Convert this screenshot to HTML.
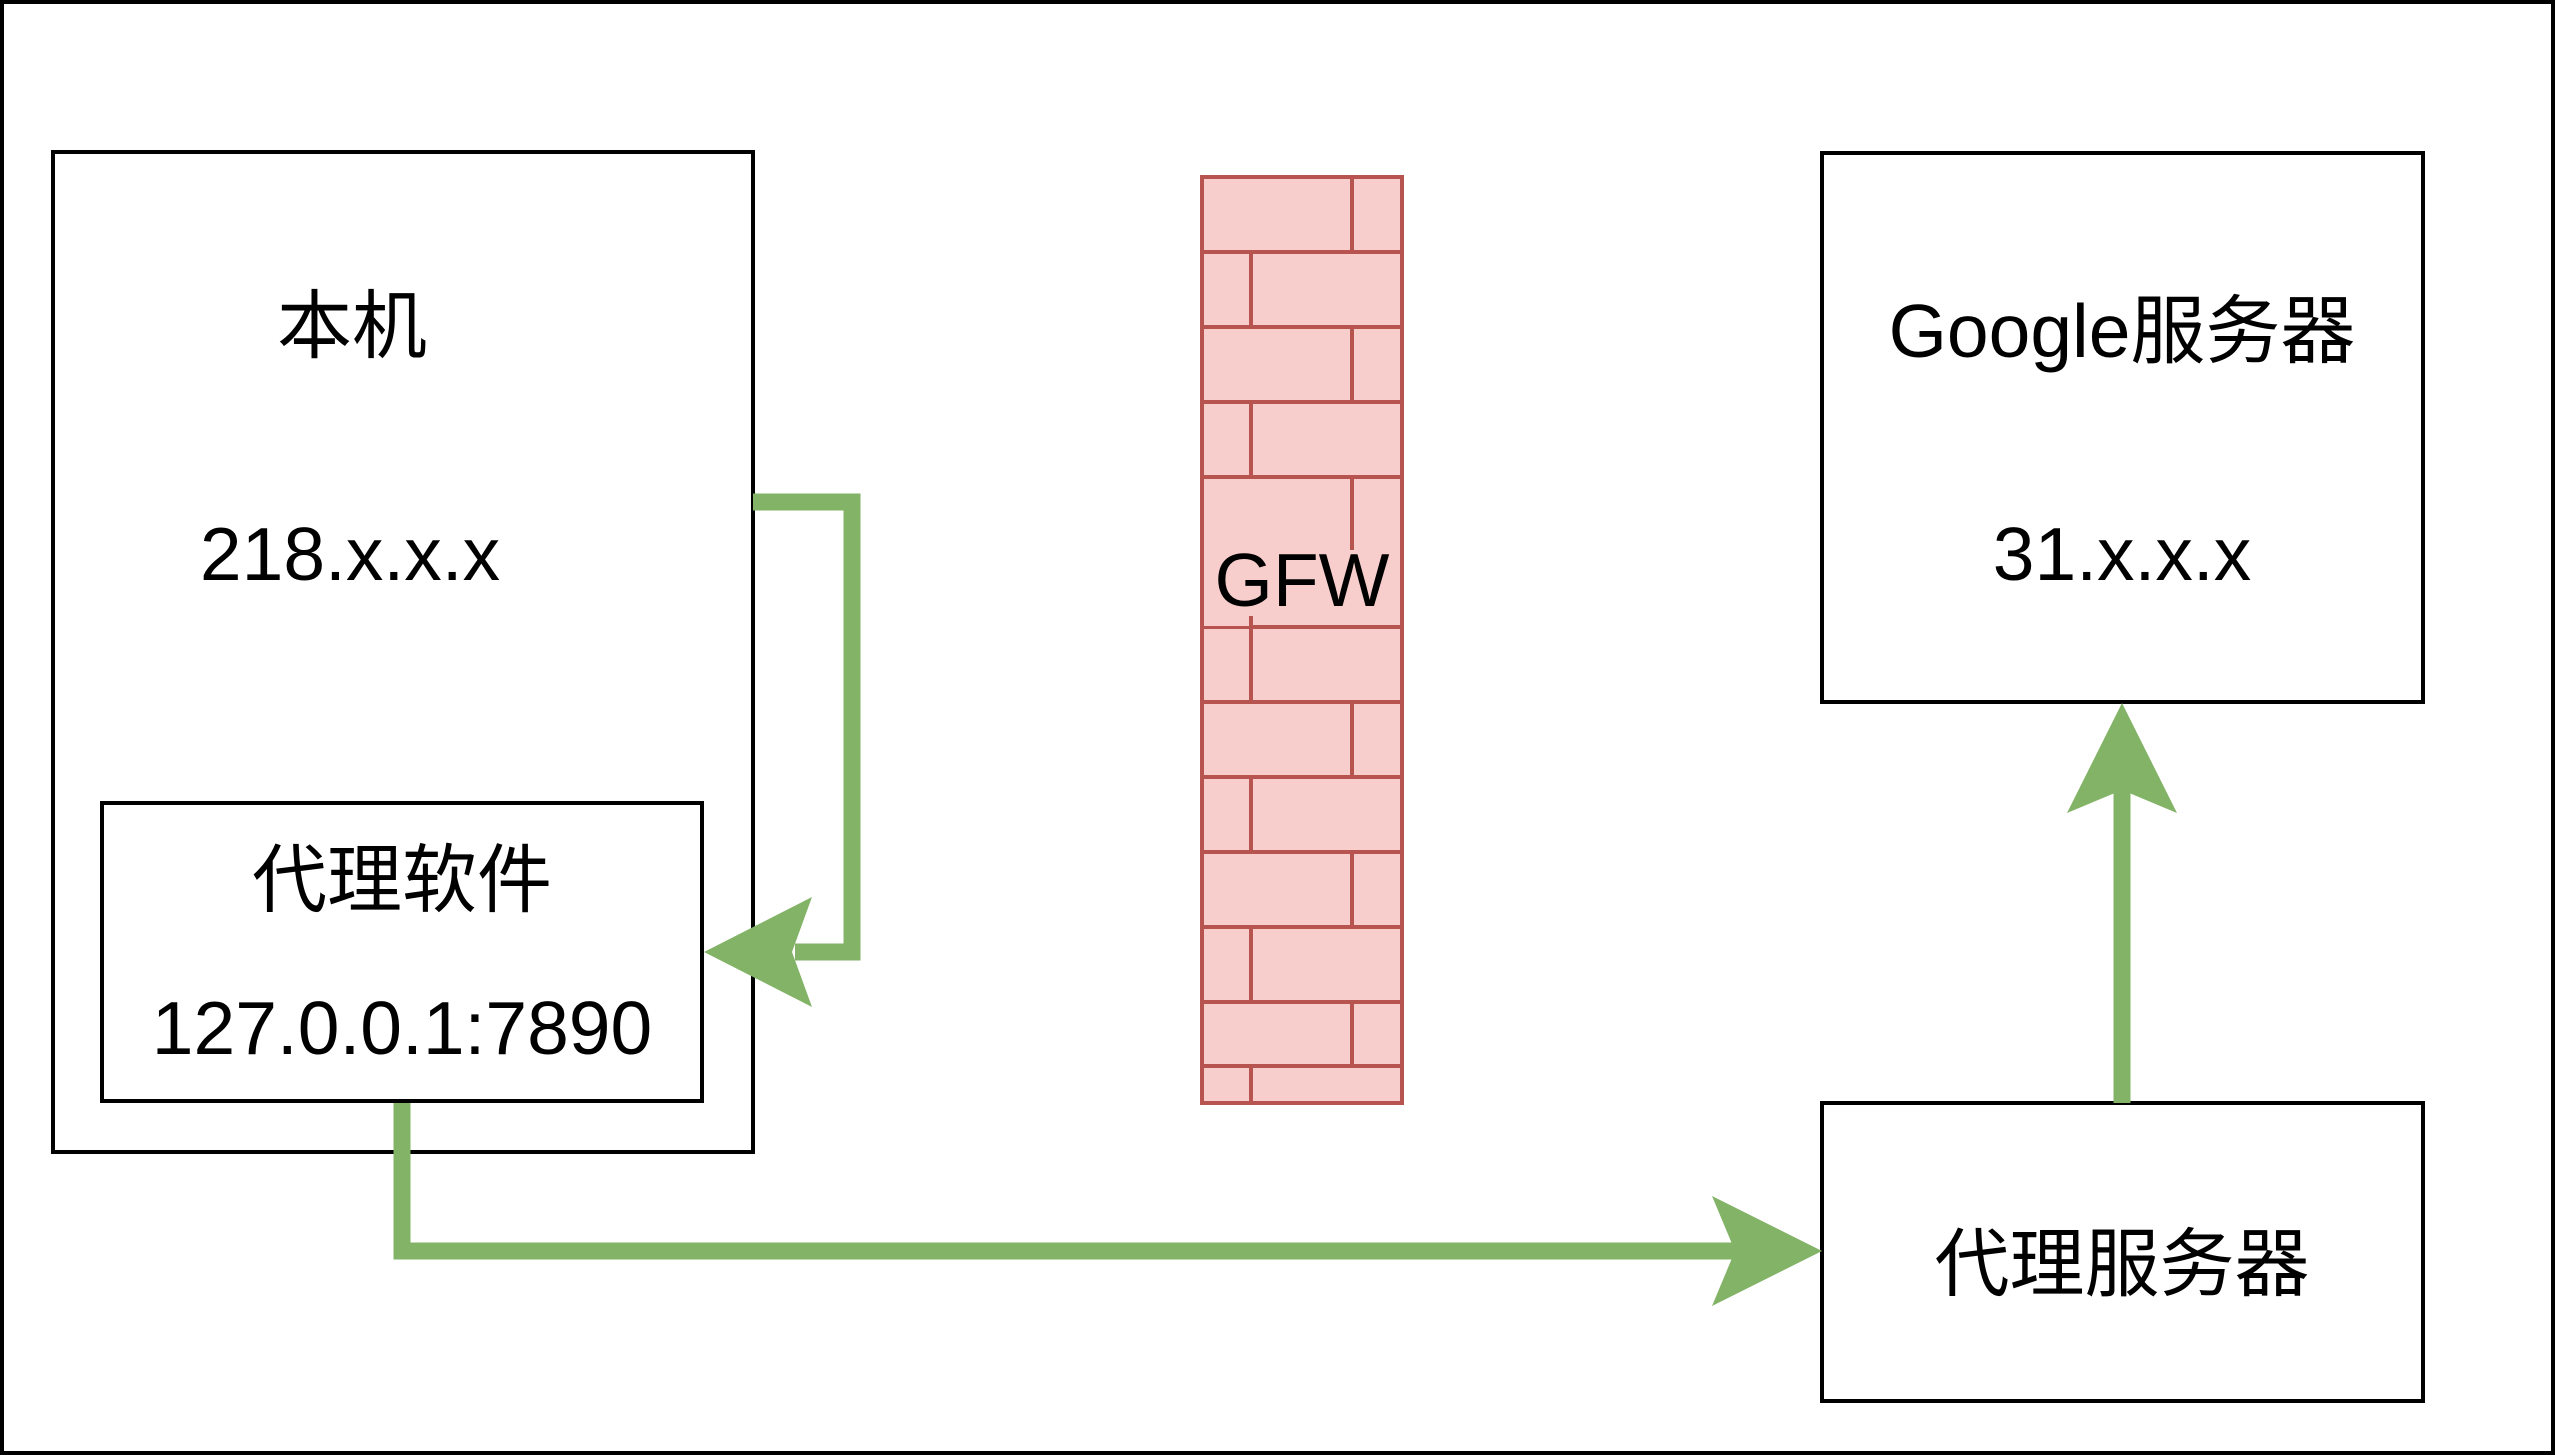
<!DOCTYPE html>
<html><head><meta charset="utf-8"><style>
html,body{margin:0;padding:0;background:#fff;}
svg{display:block;}
text{font-family:"Liberation Sans","Noto Sans CJK SC",sans-serif;font-size:75px;fill:#000;}
</style></head><body>
<svg width="2555" height="1455" viewBox="0 0 2555 1455" xmlns="http://www.w3.org/2000/svg">
<rect x="2" y="2" width="2551" height="1451" fill="#fff" stroke="#000" stroke-width="4"/>
<!-- 本机 -->
<rect x="53" y="152" width="700" height="1000" fill="#fff" stroke="#000" stroke-width="4"/>
<text x="352" y="352" text-anchor="middle">本机</text>
<text x="350" y="580" text-anchor="middle">218.x.x.x</text>
<!-- 代理软件 -->
<rect x="102" y="803" width="600" height="298" fill="#fff" stroke="#000" stroke-width="4"/>
<text x="402" y="906" text-anchor="middle">代理软件</text>
<text x="402" y="1054" text-anchor="middle">127.0.0.1:7890</text>
<!-- GFW wall -->
<g stroke="#b85450" stroke-width="4" fill="none">
<rect x="1202" y="177" width="200" height="926" fill="#f8cecc"/>
<path d="M1202 252H1402M1202 327H1402M1202 402H1402M1202 477H1402M1202 552H1402M1202 627H1402M1202 702H1402M1202 777H1402M1202 852H1402M1202 927H1402M1202 1002H1402M1202 1066H1402"/>
<path d="M1352 177V252M1251 252V327M1352 327V402M1251 402V477M1352 477V552M1251 552V627M1251 627V702M1352 702V777M1251 777V852M1352 852V927M1251 927V1002M1352 1002V1066M1251 1066V1103"/>
</g>
<rect x="1204" y="550" width="196" height="66" fill="#f8cecc"/>
<rect x="1204" y="550" width="45" height="76" fill="#f8cecc"/>
<text x="1302" y="606" text-anchor="middle">GFW</text>
<!-- Google -->
<rect x="1822" y="153" width="601" height="549" fill="#fff" stroke="#000" stroke-width="4"/>
<text x="2122" y="357" text-anchor="middle">Google服务器</text>
<text x="2122" y="580" text-anchor="middle">31.x.x.x</text>
<!-- 代理服务器 -->
<rect x="1822" y="1103" width="601" height="298" fill="#fff" stroke="#000" stroke-width="4"/>
<text x="2122" y="1290" text-anchor="middle">代理服务器</text>
<!-- connectors -->
<g stroke="#82b366" stroke-width="17" fill="none">
<path d="M753 502H852V952H795"/>
<path d="M402 1103V1251H1735"/>
<path d="M2122 1103V787"/>
</g>
<g fill="#82b366">
<path d="M704 952L812 897L792 952L812 1007Z"/>
<path d="M1822 1251L1712 1196L1735 1251L1712 1306Z"/>
<path d="M2122 703L2067 813L2122 790L2177 813Z"/>
</g>
</svg>
</body></html>
